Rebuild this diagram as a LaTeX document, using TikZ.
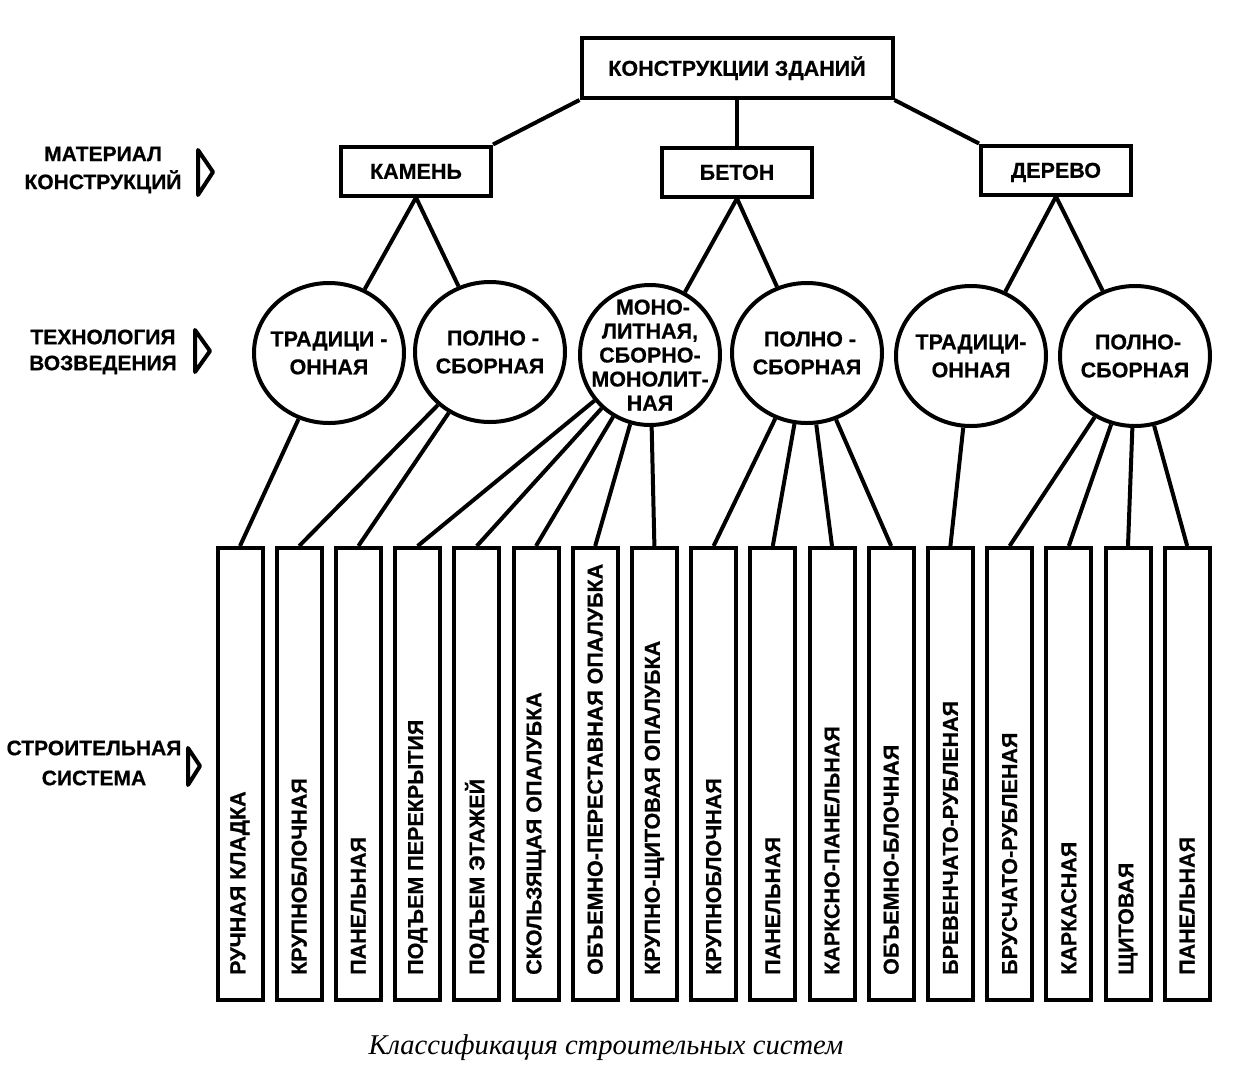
\documentclass[tikz,border=0pt]{standalone}
\usepackage{fontspec}
\setmainfont{Liberation Sans}[BoldFeatures={FakeBold=0.6}]
\newfontfamily\capfont{Liberation Serif}
\usetikzlibrary{shapes.geometric}

\begin{document}
\begin{tikzpicture}[x=1pt, y=-1pt,
    every node/.style={font=\fontsize{21.5}{24}\selectfont\bfseries},
    matbox/.style={draw, line width=4pt, minimum width=150pt, minimum height=49pt, inner sep=0pt, text height=15.5pt, text depth=0pt},
    tech/.style={draw, ellipse, line width=4pt, minimum width=150pt, minimum height=140pt, inner sep=0pt},
    techtext/.style={align=center, font=\fontsize{21.5}{28}\selectfont\bfseries},
    monotext/.style={align=center, font=\fontsize{21.5}{24}\selectfont\bfseries},
    sidetext/.style={align=center, font=\fontsize{21}{28}\selectfont\bfseries},
    sysbar/.style={draw, line width=4pt, minimum width=45pt, minimum height=452pt, inner sep=0pt, anchor=north},
    systext/.style={rotate=90, anchor=west, inner sep=0pt},
    link/.style={line width=4pt},
    marker/.style={line width=4pt, line join=round}]
    \useasboundingbox[fill=white] (0,0) rectangle (1251,1080);

    \node[matbox, minimum width=311pt, minimum height=60pt] (constr) at (737,68) {КОНСТРУКЦИИ ЗДАНИЙ};
    \node[matbox] (kamen) at (416,171) {КАМЕНЬ};
    \node[matbox] (beton) at (737,172) {БЕТОН};
    \node[matbox] (derevo) at (1056,170) {ДЕРЕВО};

    \node[tech, label={[techtext]center:{ТРАДИЦИ -\\ОННАЯ}}] (t1) at (329,353) {};
    \node[tech, label={[techtext]center:{\ ПОЛНО -\\СБОРНАЯ}}] (t2) at (490,352) {};
    \node[tech, minimum width=140pt, label={[monotext]center:{\ МОНО-\\ЛИТНАЯ,\\СБОРНО-\\МОНОЛИТ-\\НАЯ}}] (t3) at (650,355) {};
    \node[tech, label={[techtext]center:{\ ПОЛНО -\\СБОРНАЯ}}] (t4) at (807,353) {};
    \node[tech, label={[techtext]center:{ТРАДИЦИ-\\ОННАЯ}}] (t5) at (971,356) {};
    \node[tech, label={[techtext]center:{\ ПОЛНО-\\СБОРНАЯ}}] (t6) at (1135,356) {};

    \foreach \lab [count=\i] in {РУЧНАЯ КЛАДКА, КРУПНОБЛОЧНАЯ, ПАНЕЛЬНАЯ, ПОДЪЕМ ПЕРЕКРЫТИЯ,
        ПОДЪЕМ ЭТАЖЕЙ, СКОЛЬЗЯЩАЯ ОПАЛУБКА, ОБЪЕМНО-ПЕРЕСТАВНАЯ ОПАЛУБКА,
        КРУПНО-ЩИТОВАЯ ОПАЛУБКА, КРУПНОБЛОЧНАЯ, ПАНЕЛЬНАЯ, КАРКСНО-ПАНЕЛЬНАЯ,
        ОБЪЕМНО-БЛОЧНАЯ, БРЕВЕНЧАТО-РУБЛЕНАЯ, БРУСЧАТО-РУБЛЕНАЯ, КАРКАСНАЯ,
        ЩИТОВАЯ, ПАНЕЛЬНАЯ} {
        \pgfmathsetmacro\bx{240+59.2*(\i-1)}
        \node[sysbar] (s\i) at (\bx,546) {};
        \node[systext] at (\bx,975) {\lab};
    }

    \draw[link] (constr.south west) -- (kamen.north east);
    \draw[link] (constr.south) -- (beton.north);
    \draw[link] (constr.south east) -- (derevo.north west);
    \foreach \a/\b in {kamen/t1, kamen/t2, beton/t3, beton/t4, derevo/t5, derevo/t6}
        \draw[link] (\a.south) -- (\b);
    \foreach \a/\b in {t1/s1, t2/s2, t2/s3, t3/s4, t3/s5, t3/s6, t3/s7, t3/s8,
        t4/s9, t4/s10, t4/s11, t4/s12, t5/s13, t6/s14, t6/s15, t6/s16, t6/s17}
        \draw[link] (\a) -- (\b.north);

    \node[sidetext] (lmat) at (103,170) {МАТЕРИАЛ\\КОНСТРУКЦИЙ};
    \node[sidetext, font=\fontsize{21}{26}\selectfont\bfseries] (ltech) at (103,352) {ТЕХНОЛОГИЯ\\ВОЗВЕДЕНИЯ};
    \node[sidetext, font=\fontsize{21}{30}\selectfont\bfseries] (lsys) at (94,763) {СТРОИТЕЛЬНАЯ\\СИСТЕМА};
    \draw[marker] (198,150) -- (213,172) -- (198,195) -- cycle;
    \draw[marker] (195,330) -- (210,351) -- (195,372) -- cycle;
    \draw[marker] (188,748) -- (200,766) -- (188,785) -- cycle;

    \node[font=\capfont\itshape\fontsize{28.6}{30}\selectfont] (caption) at (606,1048) {Классификация строительных систем};
\end{tikzpicture}
\end{document}
